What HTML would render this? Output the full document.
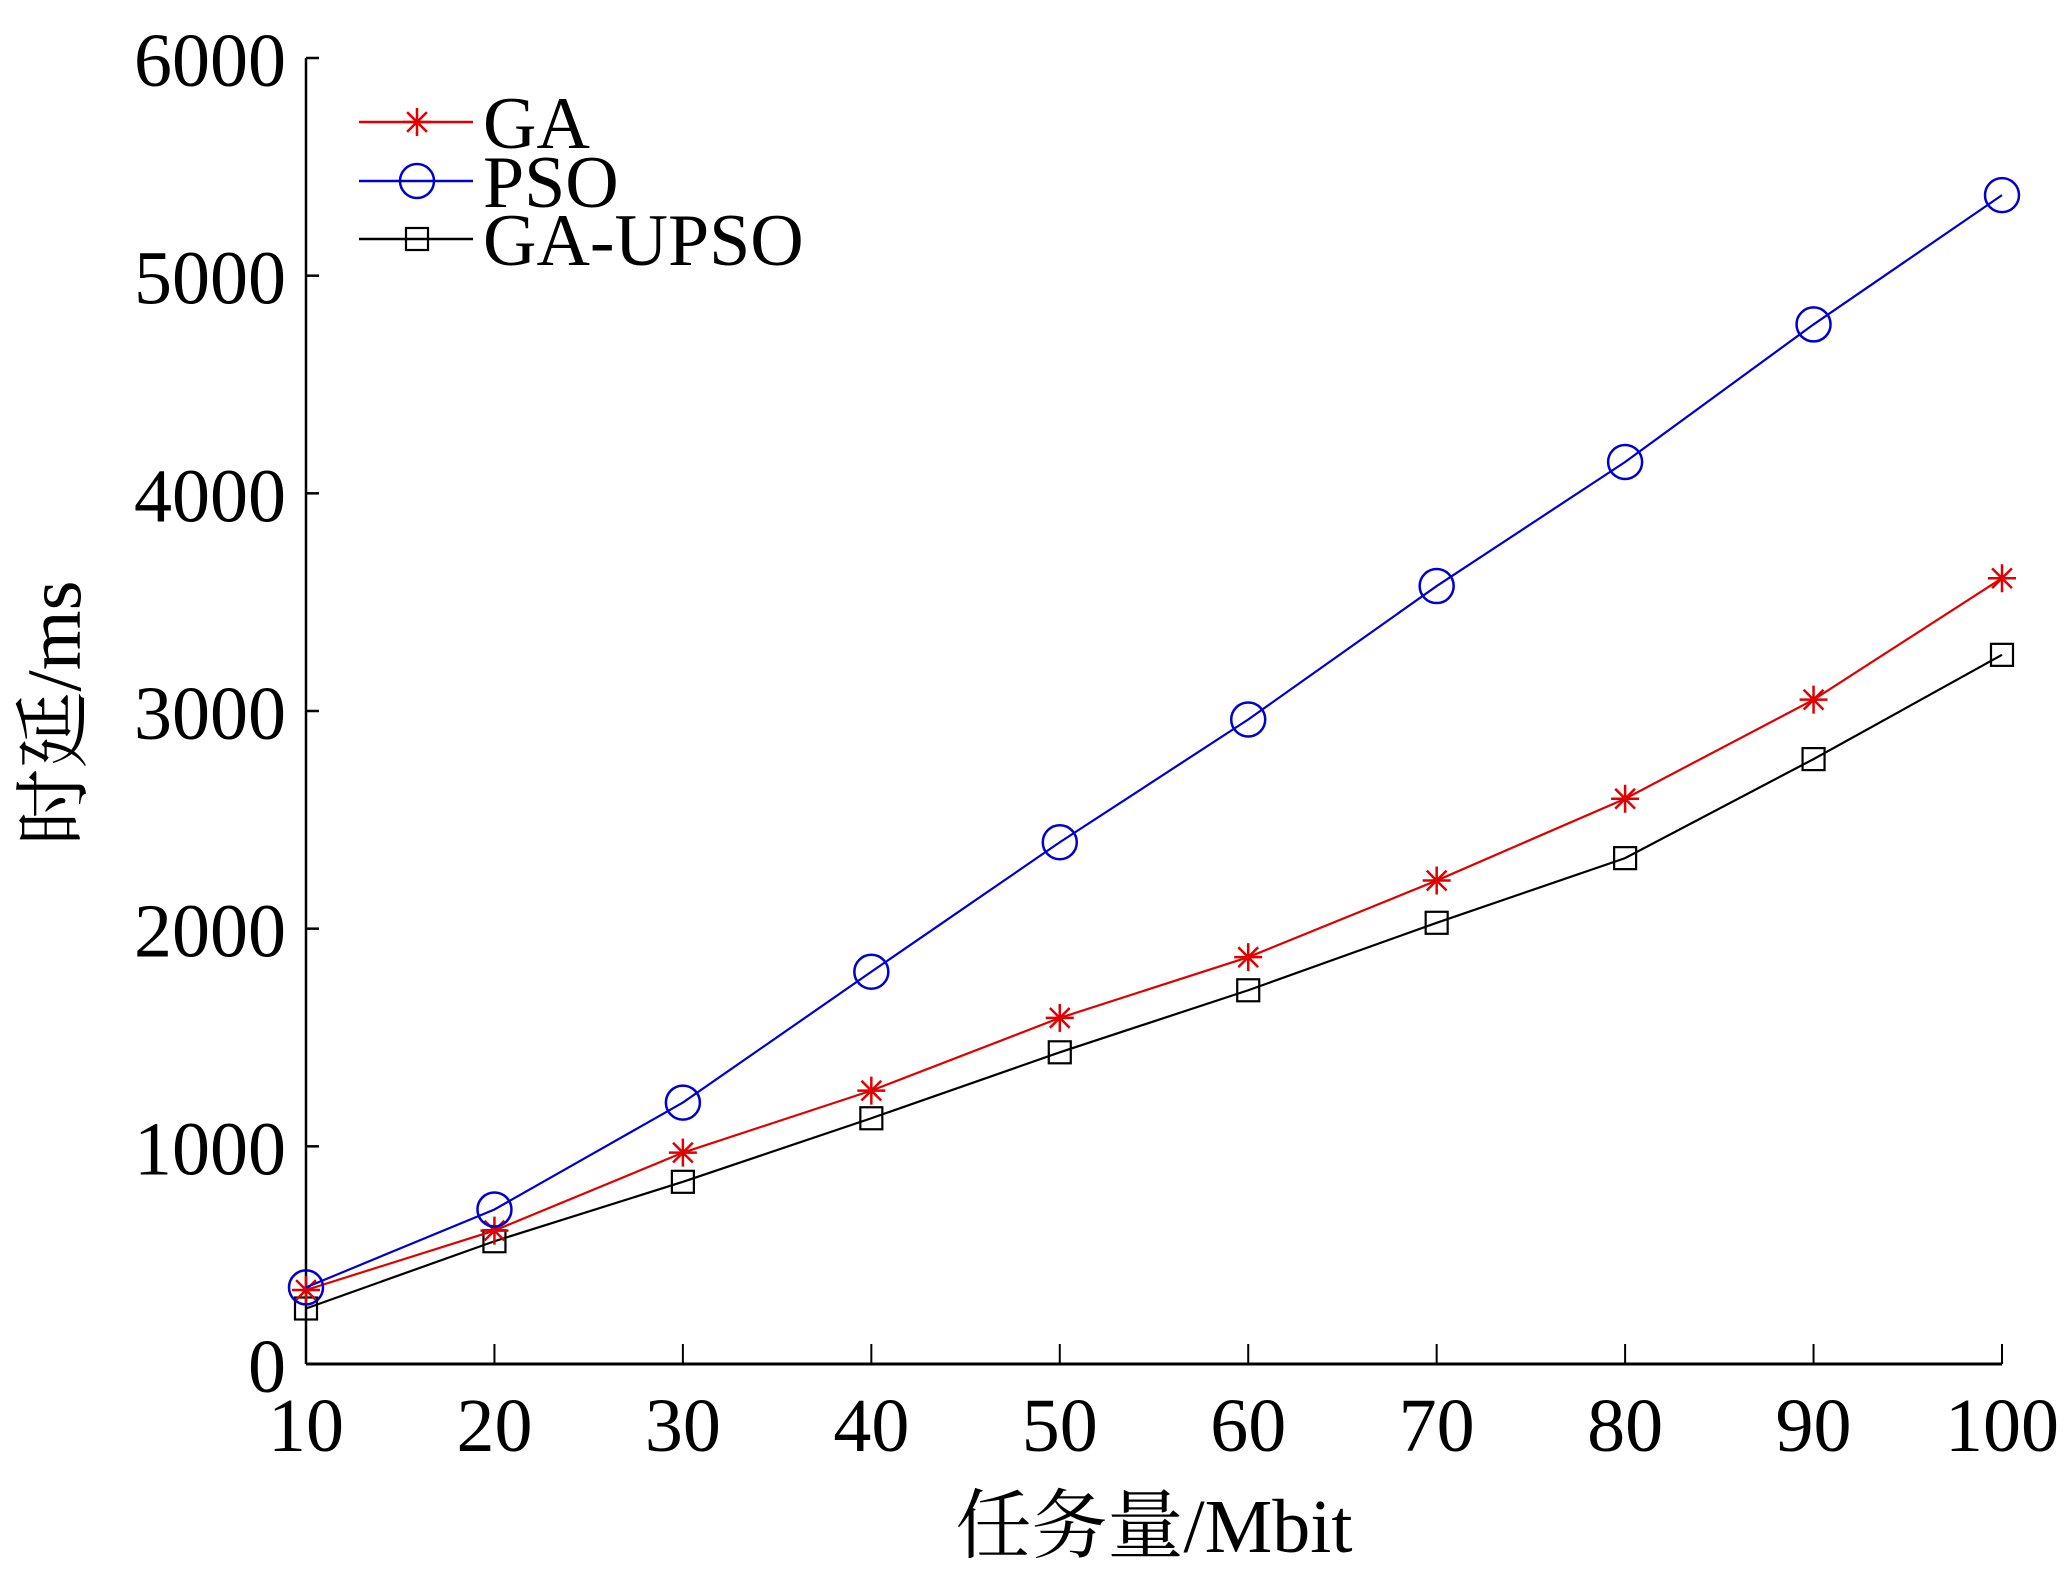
<!DOCTYPE html>
<html><head><meta charset="utf-8"><style>
html,body{margin:0;padding:0;background:#fff;}
svg{display:block;}
text{font-family:"Liberation Serif","Noto Serif CJK SC",serif;fill:#000;}
</style></head><body>
<svg id="chart" width="2071" height="1577" viewBox="0 0 2071 1577" xmlns="http://www.w3.org/2000/svg">
<g id="axes"></g>
<g id="series"></g>
<g id="legend"></g>
<text transform="translate(80,713) rotate(-90)" text-anchor="middle" font-size="77">时延/ms</text>
<text x="1154" y="1552" text-anchor="middle" font-size="76">任务量/Mbit</text>
</svg>
<script>
const categories = [10,20,30,40,50,60,70,80,90,100];
const gaValues = [340,613,971,1256,1590,1869,2221,2597,3052,3610];
const psoValues = [352,710,1201,1802,2397,2961,3574,4144,4776,5370];
const gaupsoValues = [255,564,837,1129,1432,1717,2027,2324,2779,3258];
const yTicks = [0,1000,2000,3000,4000,5000,6000];
const seriesNames = ['GA','PSO','GA-UPSO'];

const NS='http://www.w3.org/2000/svg';
const X0=306, X1=2002, Y0=1364, Y1=58;
const xs=v=>X0+(v-10)/(100-10)*(X1-X0);
const ys=v=>Y0-v/6000*(Y0-Y1);
function mk(tag,attrs,parent){const e=document.createElementNS(NS,tag);for(const k in attrs)e.setAttribute(k,attrs[k]);parent.appendChild(e);return e;}
const axes=document.getElementById('axes'), ser=document.getElementById('series'), leg=document.getElementById('legend');

let a=mk('line',{x1:X0,y1:Y0,x2:X1,y2:Y0,stroke:'#000','stroke-width':3},axes);


a=mk('line',{x1:X0,y1:Y0,x2:X0,y2:Y1,stroke:'#000','stroke-width':2.5},axes);


yTicks.forEach(t=>{
  const l=mk('line',{x1:X0,y1:ys(t),x2:X0+13,y2:ys(t),stroke:'#000','stroke-width':2.5},axes);
  
  
  const tx=mk('text',{x:286,y:ys(t)+28,'text-anchor':'end','font-size':76},axes);
  tx.textContent=t;
  
  
});
categories.forEach(c=>{
  const l=mk('line',{x1:xs(c),y1:Y0,x2:xs(c),y2:Y0-20,stroke:'#000','stroke-width':2},axes);
  
  
  const tx=mk('text',{x:xs(c),y:1451,'text-anchor':'middle','font-size':76},axes);
  tx.textContent=c;
  
  
});

function marker(type,x,y,color,g){
  if(type==='star'){
    const r=14,p=[];
    for(let i=0;i<4;i++){const ang=i*Math.PI/4;p.push(`M${x-r*Math.cos(ang)},${y-r*Math.sin(ang)}L${x+r*Math.cos(ang)},${y+r*Math.sin(ang)}`);}
    return mk('path',{d:p.join(''),stroke:color,'stroke-width':2.5,fill:'none'},g);
  } else if(type==='circle'){
    return mk('circle',{cx:x,cy:y,r:17,stroke:color,'stroke-width':2.5,fill:'none'},g);
  } else {
    return mk('rect',{x:x-11,y:y-11,width:22,height:22,stroke:color,'stroke-width':2.2,fill:'none'},g);
  }
}
const defs=[[gaupsoValues,'#000','square','series-ga-upso'],[gaValues,'#e00000','star','series-ga'],[psoValues,'#0000d0','circle','series-pso']];
defs.forEach(([vals,col,m,name])=>{
  const g=mk('g',{},ser);
  
  
  const pl=mk('polyline',{points:vals.map((v,i)=>xs(categories[i])+','+ys(v)).join(' '),fill:'none',stroke:col,'stroke-width':2.2},g);
  
  
  vals.forEach((v,i)=>{
    const mm=marker(m,xs(categories[i]),ys(v),col,g);
    
    
  });
});
const legItems=[['GA','#e00000','star',122],['PSO','#0000d0','circle',181],['GA-UPSO','#000','square',239]];
legItems.forEach(([n,col,m,y])=>{
  const g=mk('g',{},leg);
  
  
  mk('line',{x1:359,y1:y,x2:473,y2:y,stroke:col,'stroke-width':2.5},g);
  marker(m,417,y,col,g);
  const t=mk('text',{x:483,y:y+26,'font-size':74},g);
  t.textContent=n;
});
</script>
</body></html>
